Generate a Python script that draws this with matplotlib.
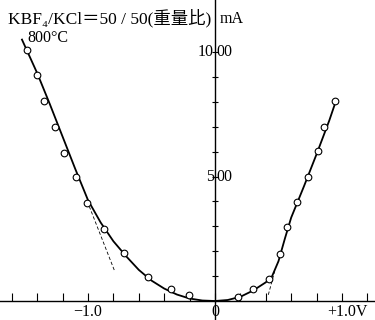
import numpy as np
import matplotlib
matplotlib.use("Agg")
import matplotlib.pyplot as plt

plt.rcParams['font.family'] = ['Liberation Serif', 'Noto Sans CJK JP', 'DejaVu Sans']

# measured points (V, mA)
pts_v = [-1.483, -1.404, -1.349, -1.26, -1.189, -1.092, -1.008, -0.876, -0.717, -0.530, -0.349, -0.202,
         0.185, 0.303, 0.425, 0.512, 0.569, 0.643, 0.732, 0.809, 0.858, 0.947]
pts_i = [10.08, 9.08, 8.04, 6.99, 5.96, 4.99, 3.95, 2.90, 1.94, 0.95, 0.49, 0.23,
         0.18, 0.49, 0.87, 1.89, 2.96, 3.96, 4.98, 6.04, 7.0, 8.04]

# hand-drawn fitted curve
curve_v = [-1.52, -1.4, -1.3, -1.2, -1.1, -1.0, -0.9, -0.8, -0.7, -0.6, -0.5, -0.4, -0.3, -0.2, -0.1, 0.0,
           0.1, 0.2, 0.3, 0.4, 0.45, 0.5, 0.55, 0.6, 0.7, 0.8, 0.9, 0.95]
curve_i = [10.5, 9.15, 7.9, 6.6, 5.3, 4.05, 3.15, 2.4, 1.8, 1.25, 0.82, 0.5, 0.26, 0.1, 0.02, 0.0,
           0.04, 0.17, 0.42, 0.75, 1.0, 1.6, 2.5, 3.35, 4.6, 5.9, 7.25, 8.0]

# extrapolated tangents (dashed)
tan_left_v = [-0.99, -0.79]
tan_left_i = [3.8, 1.2]
tan_right_v = [0.42, 0.47]
tan_right_i = [0.25, 1.2]

xtick_pos = np.round(np.arange(-1.6, 1.21, 0.2), 1)
ytick_pos = np.arange(1, 11)

fig = plt.figure(figsize=(3.75, 3.2), dpi=100)
ax = fig.add_axes([0, 0, 1, 1])
ax.set_xlim(-1.693, 1.26)
ax.set_ylim(-0.763, 12.09)

for s in ['top', 'right']:
    ax.spines[s].set_visible(False)
ax.spines['bottom'].set_position(('data', 0))
ax.spines['left'].set_position(('data', 0))
ax.spines['bottom'].set_linewidth(1.0)
ax.spines['left'].set_linewidth(1.0)

ax.set_xticks(xtick_pos)
ax.set_xticklabels(['' for _ in xtick_pos])
ax.tick_params(axis='x', direction='in', length=6, width=0.8)
ax.set_yticks(ytick_pos)
ax.set_yticklabels(['' for _ in ytick_pos])
ax.tick_params(axis='y', direction='inout', length=5, width=0.8)

ax.plot(curve_v, curve_i, color='black', lw=1.3)
ax.plot(tan_left_v, tan_left_i, color='black', lw=0.6, ls=(0, (4, 2.5)))
ax.plot(tan_right_v, tan_right_i, color='black', lw=0.6, ls=(0, (4, 2.5)))
ax.plot(pts_v, pts_i, 'o', ms=4.8, mfc='white', mec='black', mew=0.8)

fs = 11.5
ax.text(-1.0, -0.62, '−1.0', ha='center', va='baseline', fontsize=fs)
ax.text(0.0, -0.62, '0', ha='center', va='baseline', fontsize=fs)
ax.text(1.04, -0.62, '+1.0V', ha='center', va='baseline', fontsize=fs)
for y, left in [(10, '10'), (5, '5')]:
    ax.text(-0.01, y, left, ha='right', va='center', fontsize=fs)
    ax.text(0.012, y, '00', ha='left', va='center', fontsize=fs)

ax.text(0.02, 0.928, 'KBF₄/KCl＝50 / 50(重量比)', transform=ax.transAxes, fontsize=12.5, va='baseline')
ax.text(0.587, 0.928, 'mA', transform=ax.transAxes, fontsize=fs, va='baseline')
ax.text(0.074, 0.868, '800°C', transform=ax.transAxes, fontsize=fs, va='baseline')

fig.savefig('out.png', dpi=100)
